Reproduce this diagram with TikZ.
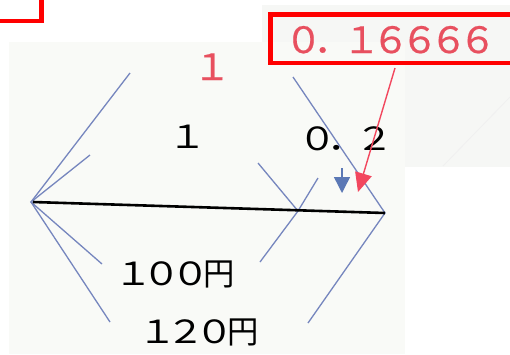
\documentclass[tikz,border=0pt]{standalone}
\usepackage{fontspec}
\usepackage{graphicx}
\newfontfamily\jp{Noto Sans CJK JP}
\newfontfamily\jpred[FakeBold=0.6]{Noto Sans CJK JP}
\usetikzlibrary{arrows.meta}
\definecolor{scanbg}{HTML}{F9FAF7}
\definecolor{patchbg}{HTML}{F6F7F5}
\definecolor{bline}{HTML}{7686BE}
\definecolor{barrow}{HTML}{5B78B5}
\definecolor{rtext}{HTML}{E8505F}
\definecolor{rarrow}{HTML}{F2475E}
\newcommand\glyphblk[1]{\makebox[1em]{\scalebox{1.35}[1.12]{#1}}}
\newcommand\glyphred[1]{\makebox[1em]{\scalebox{1.3}[1.25]{#1}}}
\newcommand\glyphyen[1]{\makebox[1em]{\scalebox{1.1}[1.12]{#1}}}
\tikzset{
  bracket/.style={draw=bline, line width=1.3pt},
  mainline/.style={draw=black, line width=2.6pt},
  redbox/.style={draw=red, line width=4.5pt},
  blacktxt/.style={font=\jp\fontsize{28.5}{30}\selectfont, text=black, inner sep=0pt, anchor=base},
  redtxt/.style={font=\jpred\fontsize{29}{30}\selectfont, text=rtext, inner sep=0pt, anchor=base},
  bluearrow/.style={draw=barrow, line width=1.4pt, -{Triangle[length=16pt,width=16pt]}},
  redarrow/.style={draw=rarrow, line width=1.4pt, -{Triangle[length=19pt,width=17pt]}}
}
\begin{document}
\begin{tikzpicture}[x=1pt,y=-1pt]
\useasboundingbox (0,0) rectangle (510,354);
% backgrounds
\fill[patchbg] (262,5) rectangle (510,167);
\fill[scanbg] (9,42) rectangle (405,354);
\draw[draw=black!6, line width=0.8pt] (510,97) -- (443,166);
% red boxes
\draw[redbox] (-10,-10) rectangle (41.5,21);
\draw[redbox] (270.5,14.5) rectangle (530,63);
% coordinates
\coordinate (L) at (31,202);
\coordinate (M) at (298,211);
\coordinate (R) at (385,213);
\coordinate (bigLtop) at (130,73);
\coordinate (bigLbot) at (110,322);
\coordinate (smLtop) at (90,155);
\coordinate (smLbot) at (102,264);
\coordinate (midtop) at (258,163);
\coordinate (midbot) at (260,262);
\coordinate (shorttop) at (318,178);
\coordinate (bigRtop) at (293,77);
\coordinate (bigRbot) at (308,323);
\coordinate (lineL) at (33,202);
% brackets
\draw[bracket] (bigLtop) -- (L) -- (bigLbot);
\draw[bracket] (smLtop) -- (L) -- (smLbot);
\draw[bracket] (midtop) -- (M) -- (midbot);
\draw[bracket] (shorttop) -- (M);
\draw[bracket] (bigRtop) -- (R) -- (bigRbot);
% main line
\draw[mainline] (lineL) -- (R);
% texts
\node[redtxt] (redone) at (212,80) {\glyphred{１}};
\node[blacktxt] (one) at (188,148) {\glyphblk{１}};
\node[blacktxt] (ptwo) at (346.5,150) {\glyphblk{０}\glyphblk{．}\glyphblk{２}};
\node[blacktxt] (hundred) at (176,285) {\glyphblk{１}\glyphblk{０}\glyphblk{０}\glyphyen{円}};
\node[blacktxt] (onetwenty) at (200,343) {\glyphblk{１}\glyphblk{２}\glyphblk{０}\glyphyen{円}};
\node[redtxt] (frac) at (390.5,53) {\glyphred{０}\glyphred{．}\glyphred{１}\glyphred{６}\glyphred{６}\glyphred{６}\glyphred{６}};
% arrows
\coordinate (bstart) at (342,168);
\coordinate (btip) at (342,193);
\draw[bluearrow] (bstart) -- (btip);
\coordinate (rstart) at (395,68);
\coordinate (rtip) at (358,192);
\draw[redarrow] (rstart) -- (rtip);
\end{tikzpicture}
\end{document}
